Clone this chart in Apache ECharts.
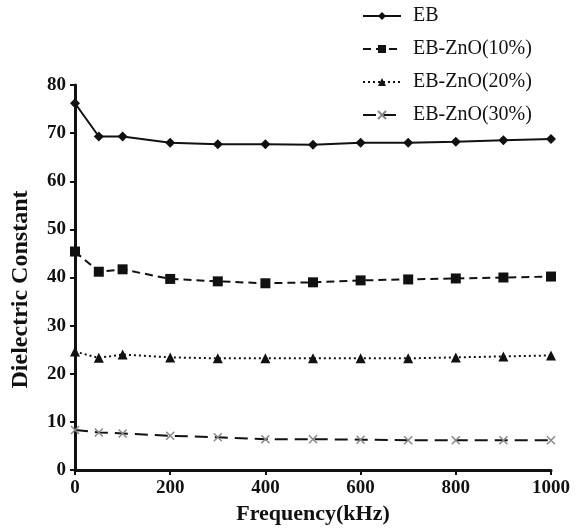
<!DOCTYPE html>
<html><head><meta charset="utf-8">
<script src="https://cdn.jsdelivr.net/npm/echarts@6/dist/echarts.min.js"></script>
<style>html,body{margin:0;padding:0;background:#fff}#c{width:583px;height:528px}</style>
</head><body><div id="c"></div>
<script>
const freq = [0, 50, 100, 200, 300, 400, 500, 600, 700, 800, 900, 1000];
const eb    = [76.2, 69.3, 69.3, 68.0, 67.7, 67.7, 67.6, 68.0, 68.0, 68.2, 68.5, 68.8];
const zno10 = [45.4, 41.2, 41.7, 39.7, 39.2, 38.8, 39.0, 39.4, 39.6, 39.8, 40.0, 40.2];
const zno20 = [24.6, 23.3, 24.0, 23.4, 23.2, 23.2, 23.2, 23.2, 23.2, 23.4, 23.6, 23.8];
const zno30 = [8.3, 7.8, 7.6, 7.1, 6.8, 6.4, 6.4, 6.3, 6.2, 6.2, 6.2, 6.2];
const names = ['EB', 'EB-ZnO(10%)', 'EB-ZnO(20%)', 'EB-ZnO(30%)'];

const pairs = a => freq.map((f, i) => [f, a[i]]);
const font = 'Liberation Serif';
const chart = echarts.init(document.getElementById('c'));
chart.setOption({
  backgroundColor: '#fff',
  animation: false,
  grid: { left: 75, right: 32, top: 85, bottom: 58, outerBoundsMode: 'none', containLabel: false },
  legend: {
    orient: 'vertical', left: 357, top: 1,
    itemWidth: 38, itemHeight: 10, itemGap: 13,
    textStyle: { fontFamily: font, fontSize: 20, color: '#111', padding: [0, 0, 0, 7] },
    data: names
  },
  xAxis: {
    type: 'value', min: 0, max: 1000, interval: 200,
    name: 'Frequency(kHz)', nameLocation: 'middle', nameGap: 32,
    nameTextStyle: { fontFamily: font, fontSize: 22, fontWeight: 'bold', color: '#111' },
    axisLine: { lineStyle: { color: '#111', width: 3 } },
    axisTick: { lineStyle: { color: '#111', width: 2 }, length: 5 },
    axisLabel: { fontFamily: font, fontSize: 19, fontWeight: 'bold', color: '#111', margin: 9,
      formatter: v => String(v) },
    splitLine: { show: false }
  },
  yAxis: {
    type: 'value', min: 0, max: 80, interval: 10,
    name: 'Dielectric Constant', nameLocation: 'middle', nameGap: 42,
    nameTextStyle: { fontFamily: font, fontSize: 24, fontWeight: 'bold', color: '#111', padding: [0, 24, 0, 0] },
    axisLine: { show: true, lineStyle: { color: '#111', width: 3 } },
    axisTick: { show: true, lineStyle: { color: '#111', width: 2 }, length: 5 },
    axisLabel: { fontFamily: font, fontSize: 19, fontWeight: 'bold', color: '#111', margin: 9 },
    splitLine: { show: false }
  },
  series: [
    { name: names[0], type: 'line', data: pairs(eb), symbol: 'diamond', symbolSize: 10,
      lineStyle: { color: '#111', width: 2, type: 'solid' }, itemStyle: { color: '#111' } },
    { name: names[1], type: 'line', data: pairs(zno10), symbol: 'rect', symbolSize: 10,
      lineStyle: { color: '#111', width: 2, type: [8, 5] }, itemStyle: { color: '#111' } },
    { name: names[2], type: 'line', data: pairs(zno20), symbol: 'triangle', symbolSize: 10,
      lineStyle: { color: '#111', width: 2, type: [2, 3] }, itemStyle: { color: '#111' } },
    { name: names[3], type: 'line', data: pairs(zno30), symbol: 'path://M0,0L10,10M10,0L0,10', symbolSize: 8,
      lineStyle: { color: '#111', width: 2, type: [13, 7] },
      itemStyle: { color: 'none', borderColor: '#888', borderWidth: 1.5 } }
  ]
});
</script></body></html>
